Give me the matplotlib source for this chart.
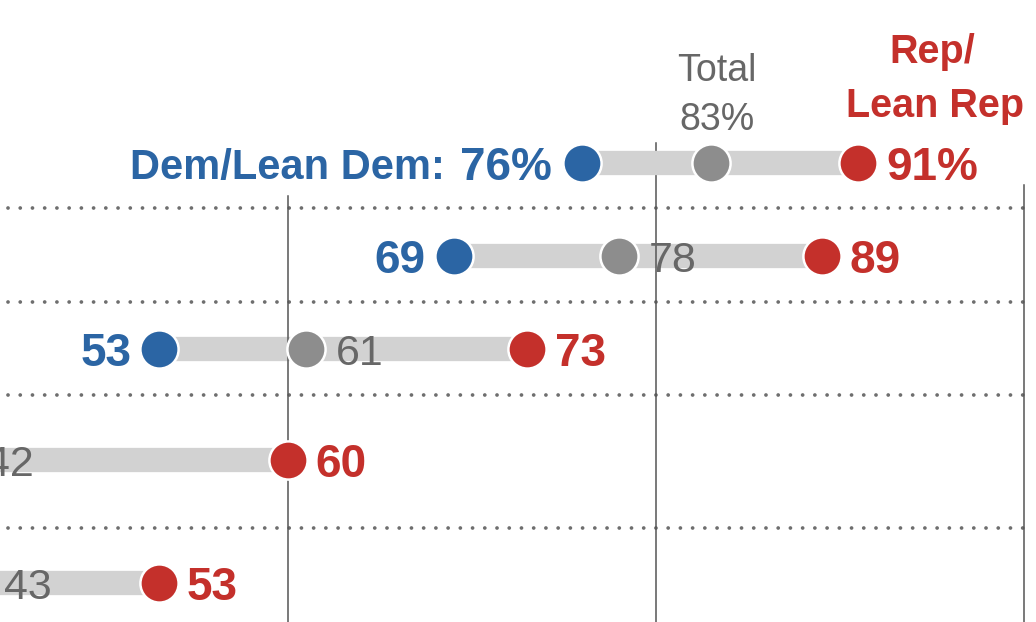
import numpy as np
import matplotlib
matplotlib.use("Agg")
import matplotlib.pyplot as plt

# values, one per row (top to bottom); dem for the last two rows is off-frame
dem = [76, 69, 53, 31, 30]
total = [83, 78, 61, 42, 43]
rep = [91, 89, 73, 60, 53]
grid_vals = [60, 80, 100]

BLUE = "#2b65a4"
RED = "#c4302b"
GRAY_DOT = "#8d8d8d"
BAR = "#d2d2d2"
GRAY_TXT = "#676767"
LINE = "#555555"

# layout (pixel-like y axis, rows are irregular because the left labels are cut off)
row_y = [163, 256, 349, 460, 583]
sep_y = [208, 302, 395, 528]
grid_top = {60: 196, 80: 143, 100: 185}

plt.rcParams["font.family"] = ["Liberation Sans", "DejaVu Sans"]

fig = plt.figure(figsize=(10.36, 6.22), dpi=100)
ax = fig.add_axes([0, 0, 1, 1])
ax.set_xlim(44.35, 100.65)
ax.set_ylim(622, 0)
ax.set_axis_off()

for g in grid_vals:
    ax.plot([g, g], [grid_top[g], 622], color=LINE, lw=1.1, zorder=2.5)

for s in sep_y:
    ax.plot([44.8, 100], [s, s], color="#6e6e6e", lw=2.7,
            dashes=(0.01, 3.25), dash_capstyle="round", zorder=1)

for i, y in enumerate(row_y):
    # top row bar sits above the gridline, the others below
    ax.plot([dem[i], rep[i]], [y, y], color=BAR, lw=17.5,
            solid_capstyle="butt", zorder=3 if i == 0 else 2)
    for v, c in ((dem[i], BLUE), (total[i], GRAY_DOT), (rep[i], RED)):
        ax.plot(v, y, "o", ms=27.5, mfc=c, mec="white", mew=1.8, zorder=4)

# row labels
for i, y in enumerate(row_y):
    r_txt = f"{rep[i]}%" if i == 0 else str(rep[i])
    ax.annotate(r_txt, (rep[i], y), xytext=(20, -12), textcoords="offset points",
                ha="left", va="baseline", fontsize=33, fontweight="bold", color=RED,
                annotation_clip=False)
    if i > 0:
        ax.annotate(str(total[i]), (total[i], y), xytext=(21, -11.5),
                    textcoords="offset points", ha="left", va="baseline",
                    fontsize=31, color=GRAY_TXT, annotation_clip=False)
        ax.annotate(str(dem[i]), (dem[i], y), xytext=(-20, -12),
                    textcoords="offset points", ha="right", va="baseline",
                    fontsize=33, fontweight="bold", color=BLUE, annotation_clip=False)

# header row
t76 = ax.annotate(f"{dem[0]}%", (dem[0], row_y[0]), xytext=(-22, -12),
                  textcoords="offset points", ha="right", va="baseline",
                  fontsize=33, fontweight="bold", color=BLUE)
fig.canvas.draw()
w76 = t76.get_window_extent().width * 72 / fig.dpi
ax.annotate("Dem/Lean Dem:", (dem[0], row_y[0]), xytext=(-22 - w76 - 11, -11.5),
            textcoords="offset points", ha="right", va="baseline",
            fontsize=30, fontweight="bold", color=BLUE)

ax.annotate(f"{total[0]}%", (total[0], row_y[0]), xytext=(4, 24),
            textcoords="offset points", ha="center", va="baseline",
            fontsize=27, color=GRAY_TXT)
ax.annotate("Total", (total[0], row_y[0]), xytext=(4, 59),
            textcoords="offset points", ha="center", va="baseline",
            fontsize=27, color=GRAY_TXT)

ax.annotate("Lean Rep", (rep[0], row_y[0]), xytext=(55, 33),
            textcoords="offset points", ha="center", va="baseline",
            fontsize=28.5, fontweight="bold", color=RED)
ax.annotate("Rep/", (rep[0], row_y[0]), xytext=(53, 72),
            textcoords="offset points", ha="center", va="baseline",
            fontsize=28.5, fontweight="bold", color=RED)

fig.savefig("out.png", dpi=100)
